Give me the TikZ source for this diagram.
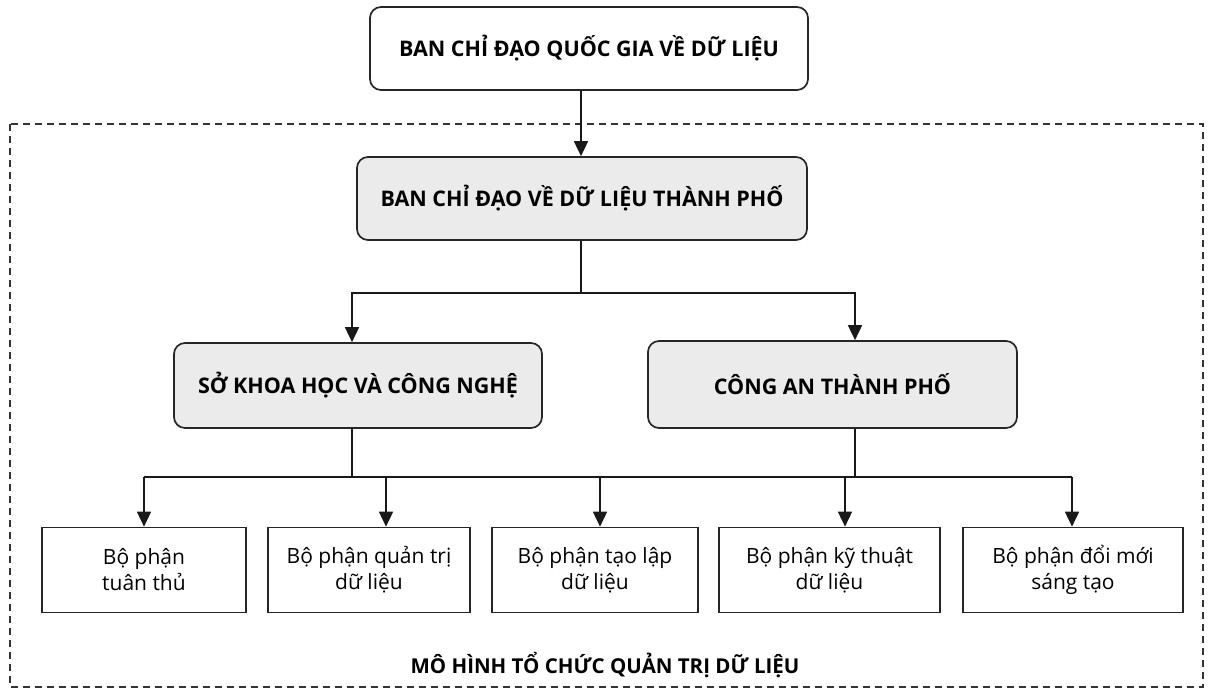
\documentclass[tikz,border=0pt]{standalone}
\usepackage{fontspec}
\setmainfont{Open Sans}
\usetikzlibrary{arrows.meta}
\begin{document}
\begin{tikzpicture}[x=1pt,y=-1pt,
  line width=1.7pt,
  headbox/.style={draw=black!85, rounded corners=11pt, font=\bfseries\fontsize{21.5}{25}\selectfont,
    inner sep=0pt, align=center},
  graybox/.style={headbox, fill=black!8},
  unitbox/.style={draw=black!85, minimum height=85pt, inner sep=0pt, align=center,
    font=\fontsize{21}{26}\selectfont},
  arr/.style={-{Triangle[width=14pt,length=15pt]}},
  link/.style={draw=black!90}
]
\useasboundingbox (0,0) rectangle (1212,691);

% outer dashed frame of the governance model
\draw[black!80, line width=1.4pt, dash pattern=on 7pt off 5pt] (10,124) rectangle (1203,687);
\node[font=\bfseries\fontsize{20.5}{24}\selectfont] (model) at (605,665) {MÔ HÌNH TỔ CHỨC QUẢN TRỊ DỮ LIỆU};

% nodes
\node[headbox, fill=white, minimum width=438pt, minimum height=83pt] (national) at (589,48.5) {BAN CHỈ ĐẠO QUỐC GIA VỀ DỮ LIỆU};
\node[graybox, minimum width=450pt, minimum height=83pt] (city) at (582,198.5) {BAN CHỈ ĐẠO VỀ DỮ LIỆU THÀNH PHỐ};
\node[graybox, minimum width=368pt, minimum height=85pt] (dost) at (358,385.5) {SỞ KHOA HỌC VÀ CÔNG NGHỆ};
\node[graybox, minimum width=369pt, minimum height=87pt] (police) at (832.5,384.5) {CÔNG AN THÀNH PHỐ};

\node[unitbox, minimum width=204pt] (u1) at (144,570) {Bộ phận\\tuân thủ};
\node[unitbox, minimum width=202pt] (u2) at (369,570) {Bộ phận quản trị\\dữ liệu};
\node[unitbox, minimum width=206pt] (u3) at (595,570) {Bộ phận tạo lập\\dữ liệu};
\node[unitbox, minimum width=221pt] (u4) at (829.5,570) {Bộ phận kỹ thuật\\dữ liệu};
\node[unitbox, minimum width=220pt] (u5) at (1073,570) {Bộ phận đổi mới\\sáng tạo};

% junction coordinates of the connectors
\coordinate (c0) at (581,293);
\coordinate (cL) at (352,293);
\coordinate (cR) at (855,293);
\coordinate (b0) at (144,477);
\coordinate (b1) at (386,477);
\coordinate (b2) at (600,477);
\coordinate (b3) at (845,477);
\coordinate (b4) at (1072,477);

% connectors
\draw[link, arr] (c0 |- national.south) -- (c0 |- city.north);
\draw[link] (c0 |- city.south) -- (c0);
\draw[link, arr] (c0) -- (cL) -- (cL |- dost.north);
\draw[link, arr] (c0) -- (cR) -- (cR |- police.north);

\draw[link] (cL |- dost.south) -- (cL |- b0);
\draw[link] (cR |- police.south) -- (cR |- b0);
\draw[link] (b0) -- (b4);
\draw[link, arr] (b0) -- (b0 |- u1.north);
\draw[link, arr] (b1) -- (b1 |- u2.north);
\draw[link, arr] (b2) -- (b2 |- u3.north);
\draw[link, arr] (b3) -- (b3 |- u4.north);
\draw[link, arr] (b4) -- (b4 |- u5.north);
\end{tikzpicture}
\end{document}
